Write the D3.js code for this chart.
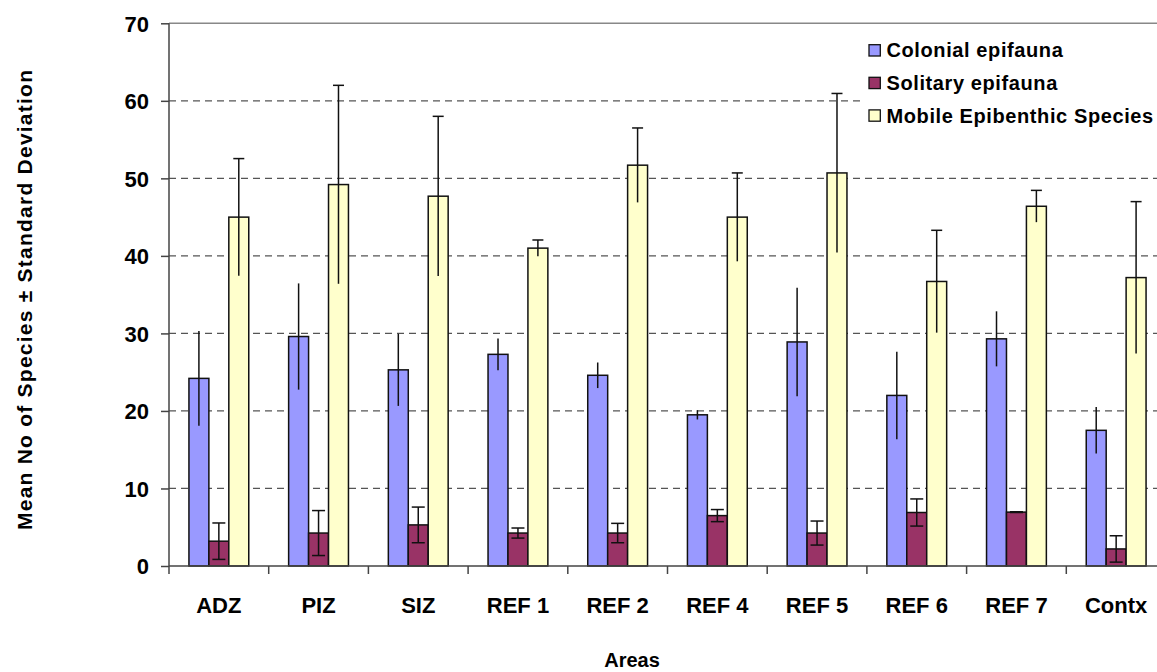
<!DOCTYPE html>
<html>
<head>
<meta charset="utf-8">
<script src="https://cdn.jsdelivr.net/npm/d3@7"></script>
<style>
  body { margin: 0; background: #fff; }
  text { font-family: "Liberation Sans", Arial, sans-serif; font-weight: bold; fill: #000; }
</style>
</head>
<body>
<div id="chart"></div>
<script>
// Data
const areas = ["ADZ", "PIZ", "SIZ", "REF 1", "REF 2", "REF 4", "REF 5", "REF 6", "REF 7", "Contx"];
const seriesNames = ["Colonial epifauna", "Solitary epifauna", "Mobile Epibenthic Species"];

const colonialMean = [24.2, 29.6, 25.3, 27.3, 24.6, 19.5, 28.9, 22.0, 29.3, 17.5];
const colonialSD   = [6.1, 6.85, 4.65, 2.05, 1.65, 0.6, 7.0, 5.65, 3.55, 3.0];
const solitaryMean = [3.2, 4.25, 5.3, 4.25, 4.25, 6.5, 4.25, 6.9, 6.95, 2.2];
const solitarySD   = [2.35, 2.9, 2.3, 0.65, 1.25, 0.78, 1.55, 1.75, 0.05, 1.7];
const mobileMean   = [45.0, 49.2, 47.7, 41.0, 51.7, 45.0, 50.7, 36.7, 46.4, 37.2];
const mobileSD     = [7.55, 12.8, 10.3, 1.05, 4.8, 5.7, 10.25, 6.6, 2.05, 9.8];

const yTicks = [0, 10, 20, 30, 40, 50, 60, 70];

// Chart settings
const chart = {
    width: 1157,
    height: 672,
    left: 169,
    right: 1166,
    top: 23.3,
    bottom: 566,
};

const colors = ["#9999FF", "#993366", "#FFFFCC"];
// which caps each series shows: [top, bottom]
const caps = [[false, false], [true, true], [true, false]];
const capWidth = [0, 13, 11];

const series = [
    { name: seriesNames[0], mean: colonialMean, sd: colonialSD },
    { name: seriesNames[1], mean: solitaryMean, sd: solitarySD },
    { name: seriesNames[2], mean: mobileMean, sd: mobileSD },
];

const svg = d3.select("#chart").append("svg")
    .attr("width", chart.width)
    .attr("height", chart.height);

const x = d3.scaleBand().domain(areas).range([chart.left, chart.right]);
const xInner = d3.scaleBand().domain(d3.range(series.length))
    .range([0, x.bandwidth()]).paddingInner(0).paddingOuter(1);
const y = d3.scaleLinear().domain([0, 70]).range([chart.bottom, chart.top]);

// gridlines
svg.append("g")
    .selectAll("line")
    .data(yTicks.filter(d => d > 0 && d < 70))
    .join("line")
    .attr("x1", chart.left).attr("x2", chart.width)
    .attr("y1", d => y(d)).attr("y2", d => y(d))
    .attr("stroke", "#555").attr("stroke-width", 1.2)
    .attr("stroke-dasharray", "7,5");

// top border
svg.append("line")
    .attr("x1", chart.left).attr("x2", chart.width)
    .attr("y1", y(70)).attr("y2", y(70))
    .attr("stroke", "#888").attr("stroke-width", 1.5);

// legend background hides the gridline beneath it
svg.append("rect")
    .attr("x", 862).attr("y", 28)
    .attr("width", chart.width - 862).attr("height", 104)
    .attr("fill", "#fff");

// bars
const groups = svg.append("g")
    .selectAll("g")
    .data(series)
    .join("g");

groups.selectAll("rect")
    .data((s, i) => s.mean.map((v, j) => ({ area: areas[j], v, i })))
    .join("rect")
    .attr("x", d => x(d.area) + xInner(d.i))
    .attr("y", d => y(d.v))
    .attr("width", xInner.bandwidth())
    .attr("height", d => y(0) - y(d.v))
    .attr("fill", d => colors[d.i])
    .attr("stroke", "#111")
    .attr("stroke-width", 1.5);

// error bars
const errData = [];
series.forEach((s, i) => {
    s.mean.forEach((v, j) => {
        errData.push({ i, cx: x(areas[j]) + xInner(i) + xInner.bandwidth() / 2, lo: v - s.sd[j], hi: v + s.sd[j] });
    });
});

const err = svg.append("g").attr("stroke", "#111").attr("stroke-width", 1.5);
err.selectAll(".stem")
    .data(errData)
    .join("line")
    .attr("class", "stem")
    .attr("x1", d => d.cx).attr("x2", d => d.cx)
    .attr("y1", d => y(d.lo)).attr("y2", d => y(d.hi));
err.selectAll(".captop")
    .data(errData.filter(d => caps[d.i][0]))
    .join("line")
    .attr("class", "captop")
    .attr("x1", d => d.cx - capWidth[d.i] / 2).attr("x2", d => d.cx + capWidth[d.i] / 2)
    .attr("y1", d => y(d.hi)).attr("y2", d => y(d.hi));
err.selectAll(".capbot")
    .data(errData.filter(d => caps[d.i][1]))
    .join("line")
    .attr("class", "capbot")
    .attr("x1", d => d.cx - capWidth[d.i] / 2).attr("x2", d => d.cx + capWidth[d.i] / 2)
    .attr("y1", d => y(d.lo)).attr("y2", d => y(d.lo));

// y axis
const yAxis = svg.append("g")
    .attr("transform", `translate(${chart.left},0)`)
    .call(d3.axisLeft(y).tickValues(yTicks).tickSize(8).tickPadding(12).tickFormat(d3.format("d")));
yAxis.select(".domain").remove();
yAxis.selectAll(".tick line").attr("stroke", "#444").attr("stroke-width", 1.5);
yAxis.selectAll("text").style("font-size", "22px").attr("dy", "0.36em");

svg.append("line")
    .attr("x1", chart.left).attr("x2", chart.left)
    .attr("y1", y(70)).attr("y2", chart.bottom + 8)
    .attr("stroke", "#444").attr("stroke-width", 1.5);

// x axis
svg.append("line")
    .attr("x1", chart.left).attr("x2", chart.width)
    .attr("y1", chart.bottom).attr("y2", chart.bottom)
    .attr("stroke", "#444").attr("stroke-width", 1.5);

svg.append("g")
    .selectAll("line")
    .data(areas.slice(1))
    .join("line")
    .attr("x1", d => x(d)).attr("x2", d => x(d))
    .attr("y1", chart.bottom).attr("y2", chart.bottom + 8)
    .attr("stroke", "#444").attr("stroke-width", 1.5);

svg.append("g")
    .selectAll("text")
    .data(areas)
    .join("text")
    .attr("x", d => x(d) + x.bandwidth() / 2)
    .attr("y", 613)
    .attr("text-anchor", "middle")
    .style("font-size", "22px")
    .text(d => d);

// axis titles
svg.append("text")
    .attr("x", 632).attr("y", 667)
    .attr("text-anchor", "middle")
    .style("font-size", "20px")
    .text("Areas");

svg.append("text")
    .attr("transform", "translate(32,300) rotate(-90)")
    .attr("text-anchor", "middle")
    .attr("textLength", 460)
    .attr("lengthAdjust", "spacing")
    .style("font-size", "21px")
    .text("Mean No of Species ± Standard Deviation");

// legend
const legend = svg.append("g")
    .selectAll("g")
    .data(seriesNames)
    .join("g")
    .attr("transform", (d, i) => `translate(869,${50.3 + i * 32.6})`);

legend.append("rect")
    .attr("x", 0).attr("y", -5.6)
    .attr("width", 11.3).attr("height", 11.3)
    .attr("fill", (d, i) => colors[i])
    .attr("stroke", "#111").attr("stroke-width", 1.3);

legend.append("text")
    .attr("x", 17.5).attr("y", 7)
    .style("font-size", "20px")
    .style("letter-spacing", "0.6px")
    .text(d => d);
</script>
</body>
</html>
